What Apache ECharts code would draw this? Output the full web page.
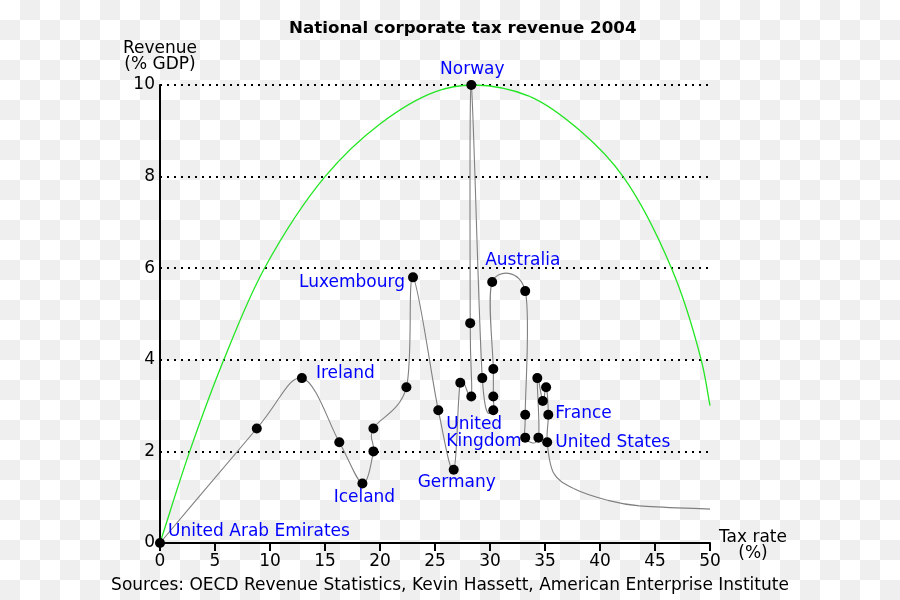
<!DOCTYPE html>
<html>
<head>
<meta charset="utf-8">
<script src="https://cdn.jsdelivr.net/npm/echarts@6/dist/echarts.min.js"></script>
<style>
  html, body { margin: 0; padding: 0; }
  body {
    width: 900px; height: 600px;
    background: repeating-conic-gradient(#efefef 0 25%, #ffffff 0 50%) 0 0 / 40px 40px;
  }
  #chart { width: 900px; height: 600px; }
</style>
</head>
<body>
<div id="chart"></div>
<script>
// Country observations, in the order the grey curve visits them
const countryNames = ['United Arab Emirates', '', 'Ireland', '', 'Iceland', '', '', '', 'Luxembourg', '',
  'Germany', '', 'United\nKingdom', '', 'Norway', '', '', '', '', 'Australia',
  '', '', '', '', '', '', '', 'France', 'United States'];
const taxRate = [0, 8.8, 12.9, 16.3, 18.4, 19.4, 19.4, 22.4, 23.0, 25.3,
  26.7, 27.3, 28.3, 28.2, 28.3, 29.3, 30.3, 30.3, 30.3, 30.2,
  33.2, 33.2, 33.2, 34.4, 34.3, 34.8, 35.1, 35.3, 35.2];
const revenue = [0, 2.5, 3.6, 2.2, 1.3, 2.0, 2.5, 3.4, 5.8, 2.9,
  1.6, 3.5, 3.2, 4.8, 10.0, 3.6, 2.9, 3.2, 3.8, 5.7,
  5.5, 2.8, 2.3, 2.3, 3.6, 3.1, 3.4, 2.8, 2.2];

// Tail of the grey fitted curve beyond the last observation
const tailRate = [35.8, 37.6, 40.6, 43.6, 50];
const tailRevenue = [1.52, 1.19, 0.94, 0.81, 0.74];

// Green Laffer curve
const lafferRate = [0, 2.7, 5.8, 9.5, 15, 20, 25, 28.5, 33.6, 38.2, 42.1, 46.5, 49.2, 50];
const lafferRevenue = [0, 2, 4, 6, 8, 9.15, 9.85, 10, 9.75, 9.0, 8, 6, 4, 3];

const xTicks = { min: 0, max: 50, interval: 5 };
const yTicks = { min: 0, max: 10, interval: 2 };

// label placement (styling only), keyed by country
const labelPlace = {
  'United Arab Emirates': { pos: [13, -6], align: 'left' },
  'Ireland': { pos: [19, 0], align: 'left' },
  'Iceland': { pos: [7, 19], align: 'center' },
  'Luxembourg': { pos: [-3, 10], align: 'right' },
  'Germany': { pos: [8, 18], align: 'center' },
  'United\nKingdom': { pos: [-20, 42], align: 'left' },
  'Norway': { pos: [6, -10], align: 'center' },
  'Australia': { pos: [-2, -16], align: 'left' },
  'France': { pos: [12, 4], align: 'left' },
  'United States': { pos: [13, 5], align: 'left' }
};

const FONT = 'DejaVu Sans';
const FS = 17;

const curveData = taxRate.map((x, i) => [x, revenue[i]])
  .concat(tailRate.map((x, i) => [x, tailRevenue[i]]));
const lafferData = lafferRate.map((x, i) => [x, lafferRevenue[i]]);
const dotData = taxRate.map((x, i) => {
  const name = countryNames[i];
  const item = { value: [x, revenue[i]], name: name };
  if (name && labelPlace[name]) {
    const p = labelPlace[name];
    item.label = {
      show: true,
      formatter: name,
      position: p.pos,
      align: p.align,
      verticalAlign: 'middle',
      color: '#0000ff',
      fontSize: FS,
      lineHeight: 17,
      fontFamily: FONT
    };
  }
  return item;
});

// Catmull-Rom spline (alpha 0 = uniform) through pixel points, y stretched by k
function splineSegments(ptsIn, alpha, k) {
  const pts = ptsIn.map(p => [p[0], p[1] * k]);
  const segs = [];
  const n = pts.length;
  const dist = (a, b) => Math.max(1e-6, Math.pow(Math.hypot(a[0] - b[0], a[1] - b[1]), alpha));
  for (let i = 0; i < n - 1; i++) {
    const p1 = pts[i], p2 = pts[i + 1];
    const p0 = i > 0 ? pts[i - 1] : [2 * p1[0] - p2[0], 2 * p1[1] - p2[1]];
    const p3 = i + 2 < n ? pts[i + 2] : [2 * p2[0] - p1[0], 2 * p2[1] - p1[1]];
    const d1 = dist(p0, p1), d2 = dist(p1, p2), d3 = dist(p2, p3);
    const d1s = d1 * d1, d2s = d2 * d2, d3s = d3 * d3;
    const c1 = [0, 1].map(q => (d1s * p2[q] - d2s * p0[q] + (2 * d1s + 3 * d1 * d2 + d2s) * p1[q]) / (3 * d1 * (d1 + d2)));
    const c2 = [0, 1].map(q => (d3s * p1[q] - d2s * p3[q] + (2 * d3s + 3 * d3 * d2 + d2s) * p2[q]) / (3 * d3 * (d3 + d2)));
    segs.push({ x1: p1[0], y1: p1[1] / k, cpx1: c1[0], cpy1: c1[1] / k, cpx2: c2[0], cpy2: c2[1] / k, x2: p2[0], y2: p2[1] / k });
  }
  return segs;
}

function curveSeries(data, color, width, z, alpha, k) {
  return {
    type: 'custom',
    data: data,
    z: z,
    silent: true,
    renderItem: function (params, api) {
      if (params.dataIndex !== 0) return null;
      const pts = data.map(d => api.coord(d));
      return {
        type: 'group',
        children: splineSegments(pts, alpha, k).map(s => ({
          type: 'bezierCurve',
          shape: s,
          style: { stroke: color, lineWidth: width, fill: null }
        }))
      };
    }
  };
}

const chart = echarts.init(document.getElementById('chart'), null, { renderer: 'canvas' });
chart.setOption({
  backgroundColor: 'transparent',
  animation: false,
  title: [
    {
      text: 'National corporate tax revenue 2004',
      left: 289, top: 20, padding: 0,
      textStyle: { fontFamily: FONT, fontSize: 16.7, fontWeight: 'bold', color: '#000' }
    },
    {
      text: 'Sources: OECD Revenue Statistics, Kevin Hassett, American Enterprise Institute',
      left: 'center', top: 577, padding: 0,
      textStyle: { fontFamily: FONT, fontSize: FS, fontWeight: 'normal', color: '#000' }
    },
    {
      text: 'Tax rate\n(%)',
      left: 753, top: 530, padding: 0, textAlign: 'center',
      textStyle: { fontFamily: FONT, fontSize: FS, fontWeight: 'normal', color: '#000', lineHeight: 16, align: 'center' }
    }
  ],
  grid: { left: 160, right: 190, top: 85, bottom: 57, containLabel: false },
  xAxis: {
    type: 'value',
    min: xTicks.min, max: xTicks.max, interval: xTicks.interval,
    axisLine: { show: true, lineStyle: { color: '#000', width: 2 } },
    axisTick: { show: true, length: 8, lineStyle: { color: '#000', width: 2 } },
    axisLabel: { fontFamily: FONT, fontSize: FS, color: '#000', margin: 10 },
    splitLine: { show: false }
  },
  yAxis: {
    type: 'value',
    min: yTicks.min, max: yTicks.max, interval: yTicks.interval,
    name: 'Revenue\n(% GDP)',
    nameLocation: 'end',
    nameGap: 12,
    nameTextStyle: { fontFamily: FONT, fontSize: FS, color: '#000', align: 'center', lineHeight: 16 },
    axisLine: { show: true, lineStyle: { color: '#000', width: 2 } },
    axisTick: { show: false },
    axisLabel: { fontFamily: FONT, fontSize: FS, color: '#000', margin: 5 },
    splitLine: { show: true, lineStyle: { color: '#000', width: 2, type: [2, 5] } }
  },
  series: [
    curveSeries(lafferData, '#22e622', 1.3, 2, 0.5, 1),
    curveSeries(curveData, '#808080', 1.1, 3, 0.0, 3),
    {
      type: 'scatter',
      data: dotData,
      symbol: 'circle',
      symbolSize: 10,
      itemStyle: { color: '#000', opacity: 1 },
      label: { show: false },
      z: 4
    }
  ]
});
</script>
</body>
</html>
